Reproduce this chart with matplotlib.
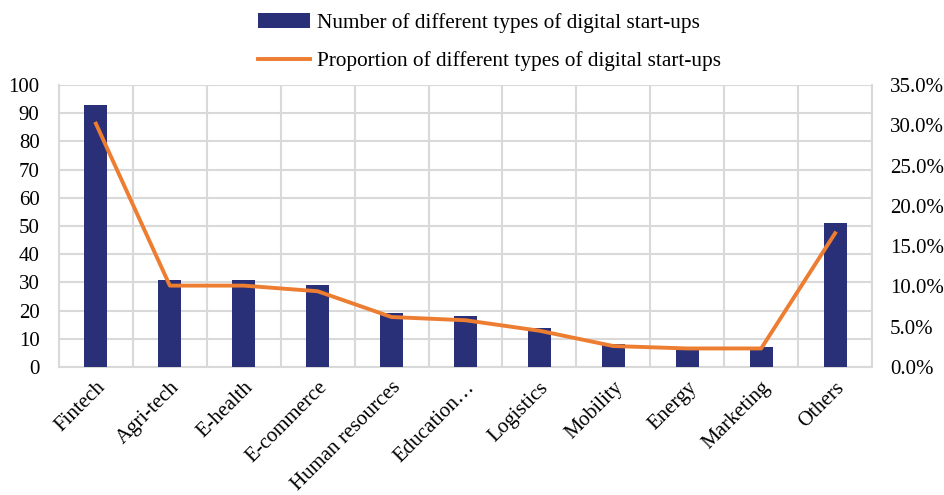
import matplotlib.pyplot as plt
import numpy as np
from matplotlib.ticker import FuncFormatter

categories = ['Fintech', 'Agri-tech', 'E-health', 'E-commerce', 'Human resources',
              'Education…', 'Logistics', 'Mobility', 'Energy', 'Marketing', 'Others']
counts = [93, 31, 31, 29, 19, 18, 14, 8, 7, 7, 51]
proportions = [30.2, 10.1, 10.1, 9.4, 6.2, 5.8, 4.5, 2.6, 2.3, 2.3, 16.6]

plt.rcParams['font.family'] = ['Liberation Serif', 'DejaVu Serif']
fs = 15

fig = plt.figure(figsize=(9.45, 4.95), dpi=100)
ax = fig.add_axes([0.0624, 0.2586, 0.8604, 0.5697])
ax2 = ax.twinx()

x = np.arange(len(categories))
bars = ax.bar(x, counts, width=0.31, color='#2A3077', zorder=3,
              label='Number of different types of digital start-ups')
line, = ax2.plot(x, proportions, color='#ED7D31', lw=2.8, zorder=4,
                 label='Proportion of different types of digital start-ups')

ax.set_xlim(-0.5, len(categories) - 0.5)
ax.set_ylim(0, 100)
ax.set_yticks(range(0, 101, 10))
ax2.set_ylim(0, 35)
ax2.set_yticks(np.arange(0, 35.1, 5))
ax2.yaxis.set_major_formatter(FuncFormatter(lambda v, p: f'{v:.1f}%'))

# grid: horizontal at ticks, vertical between categories
ax.set_xticks(x)
ax.set_xticks(np.arange(-0.5, len(categories), 1), minor=True)
ax.grid(True, axis='y', color='#D9D9D9', lw=1.5, zorder=0)
ax.grid(True, axis='x', which='minor', color='#D9D9D9', lw=1.5, zorder=0)
ax.set_axisbelow(True)

for a in (ax, ax2):
    for s in a.spines.values():
        s.set_visible(False)
for side in ('bottom', 'left', 'right'):
    ax.spines[side].set_visible(True)
    ax.spines[side].set_color('#D9D9D9')
    ax.spines[side].set_linewidth(1.5)

ax.tick_params(axis='both', which='both', length=0)
ax2.tick_params(axis='y', length=0, labelsize=fs, pad=13)
ax.tick_params(axis='y', labelsize=fs, pad=14)
ax.set_xticklabels(categories, rotation=45, ha='right', rotation_mode='anchor',
                   fontsize=fs)
ax.tick_params(axis='x', pad=8)

fig.legend(handles=[bars, line], loc='upper center', bbox_to_anchor=(0.518, 1.012),
           ncol=1, frameon=False, fontsize=15.3, handlelength=2.45,
           handletextpad=0.3, labelspacing=0.85)

fig.savefig('out.png', dpi=100)
